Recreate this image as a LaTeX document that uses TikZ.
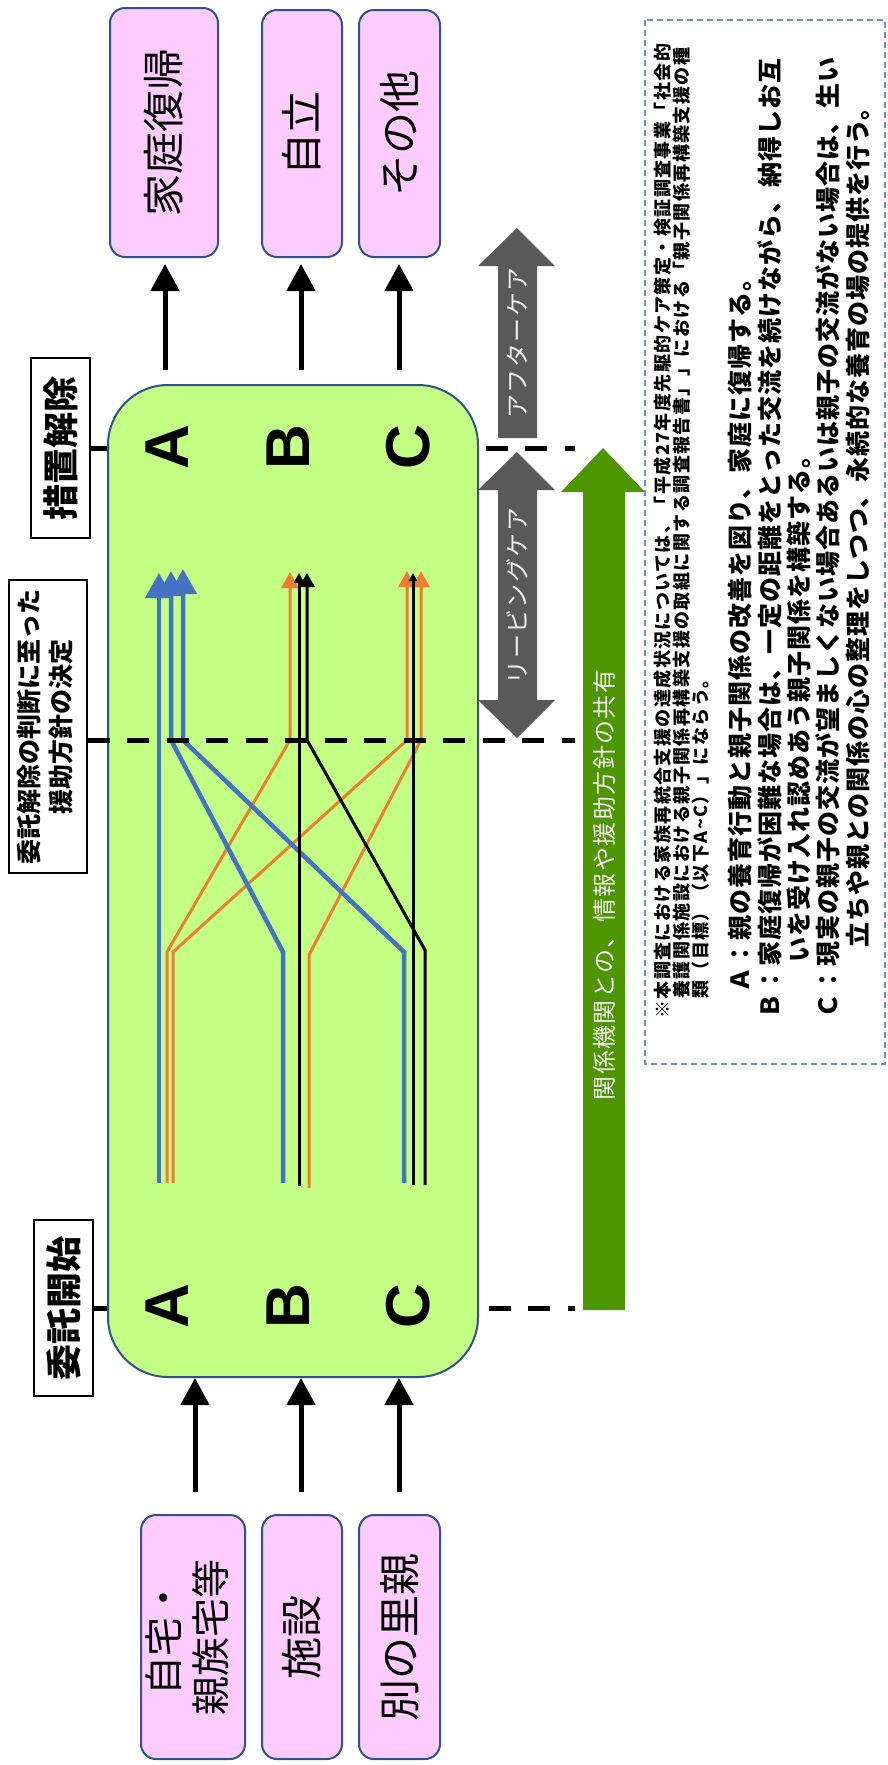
\documentclass[tikz,border=0pt]{standalone}
\usepackage{fontspec}
\newfontfamily\jp{Noto Sans CJK JP}
\newfontfamily\jpsmall{Noto Sans CJK JP}[LetterSpace=8]
\newfontfamily\jpbig{Noto Sans CJK JP}[LetterSpace=4]
\newfontfamily\jparr{Noto Sans CJK JP}[LetterSpace=6]
\newfontfamily\lat{Liberation Sans}
\usetikzlibrary{arrows.meta}
\definecolor{pinkfill}{RGB}{255,204,255}
\definecolor{edgeblue}{RGB}{47,82,143}
\definecolor{boxgreen}{RGB}{195,255,130}
\definecolor{lblue}{RGB}{68,114,196}
\definecolor{lorange}{RGB}{237,125,49}
\definecolor{arrgray}{RGB}{89,89,89}
\definecolor{arrgreen}{RGB}{78,150,0}
\definecolor{notedash}{RGB}{110,140,200}
\begin{document}
\begin{tikzpicture}[x=1pt,y=-1pt,
  pinkbox/.style={draw=edgeblue,line width=2pt,fill=pinkfill,rounded corners=15pt,inner sep=0pt},
  labbox/.style={draw=black,line width=1.5pt,fill=white,inner sep=0pt},
  bigarr/.style={line width=5pt,-{Triangle[width=28pt,length=27pt]}},
  dashline/.style={line width=5pt,dash pattern=on 22pt off 17.5pt},
  bl/.style={lblue,line width=4.5pt,-{Triangle[width=27pt,length=25pt]}},
  ol/.style={lorange,line width=3pt,-{Triangle[width=17pt,length=16pt]}},
  kl/.style={black,line width=3pt},
  letter/.style={font=\lat\bfseries\fontsize{62}{62}\selectfont,rotate=90,inner sep=0pt},
  arrtext/.style={rotate=90,inner sep=0pt,text=white!94!black},
  notesm/.style={rotate=90,anchor=west,inner sep=0pt,font=\jpsmall\bfseries\fontsize{18}{20}\selectfont},
  notebig/.style={rotate=90,anchor=west,inner sep=0pt,font=\jpbig\bfseries\fontsize{25}{28}\selectfont}]
\useasboundingbox (0,0) rectangle (887,1765);
\fill[white] (0,0) rectangle (887,1765);

% left labels
\node[labbox,minimum width=59pt,minimum height=180pt] (lab1) at (60.5,448)
  {\rotatebox{90}{\jp\bfseries\fontsize{36}{40}\selectfont 措置解除}};
\node[labbox,minimum width=78pt,minimum height=293pt] (lab2) at (48,726.5)
  {\rotatebox{90}{\jp\bfseries\fontsize{25}{32}\selectfont\begin{tabular}{@{}c@{}}委託解除の判断に至った\\援助方針の決定\end{tabular}}};
\node[labbox,minimum width=59pt,minimum height=176pt] (lab3) at (63.5,1308)
  {\rotatebox{90}{\jp\bfseries\fontsize{36}{40}\selectfont 委託開始}};

% dashed lines behind the box
\coordinate (d1r) at (575,448);
\coordinate (d3r) at (575,1308);
\draw[dashline] (lab1.east) -- (d1r);
\draw[dashline] (lab3.east) -- (d3r);

% green box
\node[draw=edgeblue,line width=2pt,fill=boxgreen,rounded corners=60pt,minimum width=370pt,minimum height=992pt,inner sep=0pt] (green) at (293,881) {};

% letters
\node[letter] (ta) at (167,447) {A};
\node[letter] (tb) at (288,447) {B};
\node[letter] (tc) at (408,447) {C};
\node[letter] (ba) at (167,1306) {A};
\node[letter] (bb) at (288,1306) {B};
\node[letter] (bc) at (408,1306) {C};

% pink boxes top
\node[pinkbox,minimum width=108pt,minimum height=249pt] (home) at (164,132.5)
  {\rotatebox{90}{\jp\fontsize{42}{48}\selectfont 家庭復帰}};
\node[pinkbox,minimum width=80pt,minimum height=247pt] (indep) at (302,133.5)
  {\rotatebox{90}{\jp\fontsize{42}{48}\selectfont 自立}};
\node[pinkbox,minimum width=81pt,minimum height=247pt] (other) at (399.5,133.5)
  {\rotatebox{90}{\jp\fontsize{42}{48}\selectfont その他}};

% pink boxes bottom
\node[pinkbox,minimum width=104pt,minimum height=244pt] (src1) at (193,1637)
  {\rotatebox{90}{\jp\fontsize{39}{47}\selectfont\begin{tabular}{@{}c@{}}自宅・\\親族宅等\end{tabular}}};
\node[pinkbox,minimum width=80pt,minimum height=244pt] (src2) at (302,1637)
  {\rotatebox{90}{\jp\fontsize{42}{48}\selectfont 施設}};
\node[pinkbox,minimum width=81pt,minimum height=244pt] (src3) at (399.5,1637)
  {\rotatebox{90}{\jp\fontsize{42}{48}\selectfont 別の里親}};

% arrows out of the box
\coordinate (oa1) at (165,370);
\coordinate (oa2) at (301,370);
\coordinate (oa3) at (399,370);
\draw[bigarr,shorten >=6pt] (oa1) -- (oa1 |- home.south);
\draw[bigarr,shorten >=6pt] (oa2) -- (oa2 |- indep.south);
\draw[bigarr,shorten >=6pt] (oa3) -- (oa3 |- other.south);

% arrows into the box
\coordinate (ia1) at (195,1492);
\coordinate (ia2) at (301,1492);
\coordinate (ia3) at (399,1492);
\draw[bigarr] (ia1) -- (ia1 |- green.south);
\draw[bigarr] (ia2) -- (ia2 |- green.south);
\draw[bigarr] (ia3) -- (ia3 |- green.south);

% transition lines
\draw[ol] (167,1183) -- (167,952) -- (290,740) -- (290,572);
\draw[ol] (173,1183) -- (173,952) -- (407,740) -- (407,571);
\draw[ol] (309,1188) -- (309,955) -- (421,740) -- (421,571);
\draw[bl] (159,1183) -- (159,573);
\draw[bl] (283,1183) -- (283,952) -- (171,740) -- (171,571);
\draw[bl] (404,1183) -- (404,952) -- (183,740) -- (183,569);
\draw[kl,-{Triangle[width=10pt,length=10pt]}] (299,1186) -- (299,573);
\draw[kl,-{Triangle[width=15pt,length=14pt]}] (425,1185) -- (425,950) -- (307,740) -- (307,573);
\draw[kl,-{Triangle[width=8pt,length=8pt]}] (413,1185) -- (413,573);

% middle dashed line
\coordinate (d2r) at (575,740);
\draw[dashline] (lab2.east |- d2r) -- (d2r);

% gray arrows
\fill[arrgray] (517,228) -- (555,266) -- (537,266) -- (537,438) -- (498,438) -- (498,266) -- (478,266) -- cycle;
\fill[arrgray] (517,452) -- (555,490) -- (537,490) -- (537,700) -- (555,700) -- (517,738) -- (478,700) -- (498,700) -- (498,490) -- (478,490) -- cycle;
\node[arrtext,font=\jparr\fontsize{24}{24}\selectfont] (after) at (517,343) {アフターケア};
\node[arrtext,font=\jparr\fontsize{24}{24}\selectfont] (leave) at (517,596) {リービングケア};

% green arrow
\fill[arrgreen] (603,448) -- (645,492) -- (625,492) -- (625,1310) -- (583,1310) -- (583,492) -- (561,492) -- cycle;
\node[arrtext,font=\jparr\fontsize{24}{24}\selectfont] (share) at (604,885) {関係機関との、情報や援助方針の共有};

% note
\draw[notedash,line width=1.3pt,dash pattern=on 6pt off 4pt] (645,20) rectangle (885,1064);
\node[notesm] (n1) at (663,1019) {※本調査における家族再統合支援の達成状況については、「平成27年度先駆的ケア策定・検証調査事業「社会的};
\node[notesm] (n2) at (682,999) {養護関係施設における親子関係再構築支援の取組に関する調査報告書」」における「親子関係再構築支援の種};
\node[notesm] (n3) at (701,999) {類（目標）（以下A\textasciitilde C）」にならう。};
\node[notebig] (na) at (740,993) {Ａ：親の養育行動と親子関係の改善を図り、家庭に復帰する。};
\node[notebig] (nb) at (770,1019) {Ｂ：家庭復帰が困難な場合は、一定の距離をとった交流を続けながら、納得しお互};
\node[notebig] (nb2) at (799,963) {いを受け入れ認めあう親子関係を構築する。};
\node[notebig] (nc) at (828,1019) {Ｃ：現実の親子の交流が望ましくない場合あるいは親子の交流がない場合は、生い};
\node[notebig] (nc2) at (858,948) {立ちや親との関係の心の整理をしつつ、永続的な養育の場の提供を行う。};
\end{tikzpicture}
\end{document}
